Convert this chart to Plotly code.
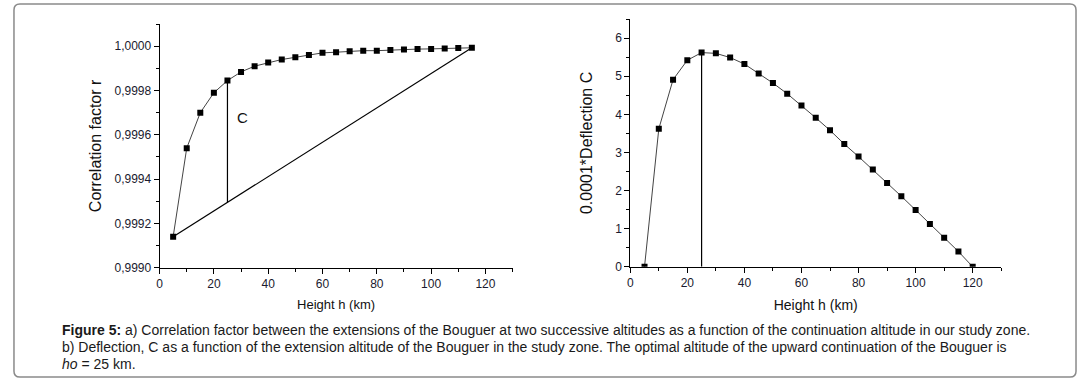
import plotly.graph_objects as go

# ---- data ----
heights_a = [5, 10, 15, 20, 25, 30, 35, 40, 45, 50, 55, 60, 65, 70, 75, 80, 85, 90, 95, 100, 105, 110, 115]
corr_r = [0.99914, 0.99954, 0.99970, 0.99979, 0.999845, 0.999884, 0.99991, 0.999926, 0.99994, 0.99995,
          0.99996, 0.99997, 0.999973, 0.999977, 0.99998, 0.99998, 0.999983, 0.999985, 0.999987, 0.999988,
          0.99999, 0.999992, 0.999993]
heights_b = [5, 10, 15, 20, 25, 30, 35, 40, 45, 50, 55, 60, 65, 70, 75, 80, 85, 90, 95, 100, 105, 110, 115, 120]
deflection = [0.0, 3.62, 4.91, 5.42, 5.62, 5.60, 5.49, 5.32, 5.07, 4.82, 4.54, 4.23, 3.91, 3.58, 3.22,
              2.89, 2.55, 2.20, 1.85, 1.49, 1.12, 0.76, 0.40, 0.0]
h_opt = 25

W, H = 1083, 385
VS = 0.979  # vertical compensation observed in the rendered page
def px(x):
    return x / W
def py(y):
    return 1 - (y / VS) / H

# chord from first to last point of curve a and its value at h_opt
x0, y0 = heights_a[0], corr_r[0]
x1, y1 = heights_a[-1], corr_r[-1]
chord_at_opt = y0 + (h_opt - x0) * (y1 - y0) / (x1 - x0)
r_at_opt = corr_r[heights_a.index(h_opt)]
c_at_opt = deflection[heights_b.index(h_opt)]

fig = go.Figure()

line_style = dict(color="#444", width=1)
marker_style = dict(symbol="square", size=6, color="black")

fig.add_trace(go.Scatter(x=heights_a, y=corr_r, mode="lines+markers", line=line_style,
                         marker=marker_style, xaxis="x", yaxis="y", showlegend=False))
fig.add_trace(go.Scatter(x=[x0, x1], y=[y0, y1], mode="lines", line=dict(color="black", width=1.2),
                         xaxis="x", yaxis="y", showlegend=False))
fig.add_trace(go.Scatter(x=[h_opt, h_opt], y=[chord_at_opt, r_at_opt], mode="lines",
                         line=dict(color="black", width=1.2), xaxis="x", yaxis="y", showlegend=False))

fig.add_trace(go.Scatter(x=heights_b, y=deflection, mode="lines+markers", line=line_style,
                         marker=marker_style, xaxis="x2", yaxis="y2", showlegend=False))
fig.add_trace(go.Scatter(x=[h_opt, h_opt], y=[0, c_at_opt], mode="lines",
                         line=dict(color="black", width=1.2), xaxis="x2", yaxis="y2", showlegend=False))

FAM = "Arial, Liberation Sans"
tick_font = dict(family=FAM, size=12, color="#1a1a2e")

def xaxis_cfg(domain, anchor, size, standoff):
    return dict(domain=domain, anchor=anchor, range=[0, 130], dtick=20, tick0=0,
                ticks="outside", ticklen=5, tickwidth=1, tickcolor="black",
                minor=dict(dtick=10, ticks="outside", ticklen=3, tickcolor="black", showgrid=False),
                showline=True, linecolor="black", linewidth=1, showgrid=False, zeroline=False,
                tickfont=tick_font,
                title=dict(text="Height h (km)", font=dict(family=FAM, size=size, color="#111"), standoff=standoff))

fig.update_layout(
    width=W, height=H,
    margin=dict(l=0, r=0, t=0, b=0),
    paper_bgcolor="white", plot_bgcolor="white",
    separators=",.",
    xaxis=xaxis_cfg([px(157), px(511)], "y", 13, 9),
    yaxis=dict(domain=[py(267), py(24)], anchor="x", range=[0.9990, 1.0001], dtick=0.0002, tick0=0.9990,
               tickformat=".4f", ticks="outside", ticklen=5, tickcolor="black",
               minor=dict(dtick=0.0001, ticks="outside", ticklen=3, tickcolor="black", showgrid=False),
               showline=True, linecolor="black", linewidth=1, showgrid=False, zeroline=False,
               tickfont=tick_font,
               title=dict(text="Correlation factor r", font=dict(family=FAM, size=16, color="#111"), standoff=8)),
    xaxis2=xaxis_cfg([px(629), px(1001)], "y2", 14, 11),
    yaxis2=dict(domain=[py(266), py(19)], anchor="x2", range=[0, 6.5], dtick=1, tick0=0,
                ticks="outside", ticklen=5, tickcolor="black",
                minor=dict(dtick=0.5, ticks="outside", ticklen=3, tickcolor="black", showgrid=False),
                showline=True, linecolor="black", linewidth=1, showgrid=False, zeroline=False,
                tickfont=tick_font,
                title=dict(text="0.0001*Deflection C", font=dict(family=FAM, size=16, color="#111"),
                           standoff=18)),
)

fig.add_annotation(x=30.5, y=0.99968, xref="x", yref="y", text="C", showarrow=False,
                   font=dict(family=FAM, size=15, color="#111"))

cap_font = dict(family=FAM, size=14, color="#1a1a1a")
captions = [
    "<b>Figure 5:</b> a) Correlation factor between the extensions of the Bouguer at two successive altitudes as a function of the continuation altitude in our study zone.",
    "b) Deflection, C as a function of the extension altitude of the Bouguer in the study zone. The optimal altitude of the upward continuation of the Bouguer is",
    "<i>ho</i> = 25 km.",
]
for i, t in enumerate(captions):
    fig.add_annotation(x=px(57), y=py(329 + 16.8 * i), xref="paper", yref="paper", text=t,
                       showarrow=False, xanchor="left", yanchor="middle", font=cap_font)

# rounded frame
l, r, t, b, rad = px(11), px(1076), py(4), py(376), 6
rx, ry = rad / W, rad / H
path = (f"M {l+rx},{t} L {r-rx},{t} Q {r},{t} {r},{t-ry} L {r},{b+ry} Q {r},{b} {r-rx},{b} "
        f"L {l+rx},{b} Q {l},{b} {l},{b+ry} L {l},{t-ry} Q {l},{t} {l+rx},{t} Z")
fig.add_shape(type="path", path=path, xref="paper", yref="paper", line=dict(color="#8a8a8a", width=1.5))

fig.write_html("out.html", config={"responsive": False, "displayModeBar": False},
               post_script="document.body.style.margin='0';document.body.style.overflow='hidden';")
